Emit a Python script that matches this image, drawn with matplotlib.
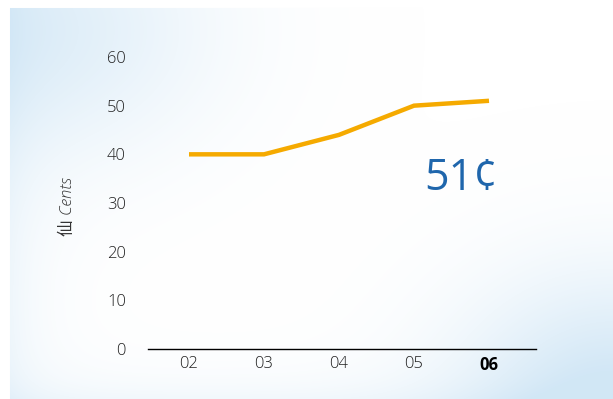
import numpy as np
import matplotlib.pyplot as plt
from matplotlib.colors import LinearSegmentedColormap

years = ["02", "03", "04", "05", "06"]
cents = [40, 40, 44, 50, 51]
yticks = [0, 10, 20, 30, 40, 50, 60]

fig = plt.figure(figsize=(6.13, 3.99), dpi=100)

# pale blue panel shading, strongest in the top-left and bottom-right corners
bg = fig.add_axes([0, 0, 1, 1])
h, w = 399, 613
yy, xx = np.mgrid[0:h, 0:w].astype(float)
shade = np.exp(-((xx - 40) ** 2 / (2 * 120 ** 2) + (yy - 30) ** 2 / (2 * 90 ** 2))) * 0.65
shade += np.exp(-((xx - w) ** 2 / (2 * 110 ** 2) + (yy - h) ** 2 / (2 * 90 ** 2))) * 0.95
shade += np.exp(-(xx - 10) / 35.0) * 0.35
shade += np.exp(-(h - yy) / 25.0) * 0.3
shade = np.clip(shade, 0, 1)
shade[:, :10] = 0
shade[:8, :] = 0
cmap = LinearSegmentedColormap.from_list("bg", ["#ffffff", "#d2e7f6"])
bg.imshow(shade, cmap=cmap, vmin=0, vmax=1, aspect="auto")
bg.axis("off")

ax = fig.add_axes([148 / 613, 1 - 349 / 399, 388 / 613, 292 / 399])
ax.patch.set_alpha(0)
x = np.arange(len(years))
ax.plot(x, cents, color="#f5aa00", lw=3.2, solid_capstyle="butt",
        solid_joinstyle="miter", clip_on=False)

ax.set_xlim(-41 / 75, 4 + 47 / 75)
ax.set_ylim(0, 60)
ax.set_yticks(yticks)
ax.set_yticklabels([str(v) for v in yticks], fontsize=12, color="#222222",
                   family="Open Sans", fontweight="light")
ax.set_xticks(x)
ax.set_xticklabels(years, fontsize=12, color="#222222", family="Open Sans",
                   fontweight="light")
last = ax.get_xticklabels()[-1]
last.set_fontweight("bold")
last.set_color("black")
ax.tick_params(axis="y", length=0, pad=16)
ax.tick_params(axis="x", length=0, pad=5)
for s in ["top", "right", "left"]:
    ax.spines[s].set_visible(False)
ax.spines["bottom"].set_color("black")
ax.spines["bottom"].set_linewidth(1.0)

fig.text(68 / 613, 1 - 207 / 399, "仙 Cents", rotation=90, style="italic",
         fontsize=12, color="#333333", ha="center", va="center",
         family=["Open Sans", "Noto Sans CJK TC"], fontweight="light")

ax.text(x[-1] - 0.37, 35, f"{cents[-1]}¢", fontsize=31, color="#1f66ac",
        ha="center", va="center", family="Open Sans")

fig.savefig("out.png", dpi=100)
